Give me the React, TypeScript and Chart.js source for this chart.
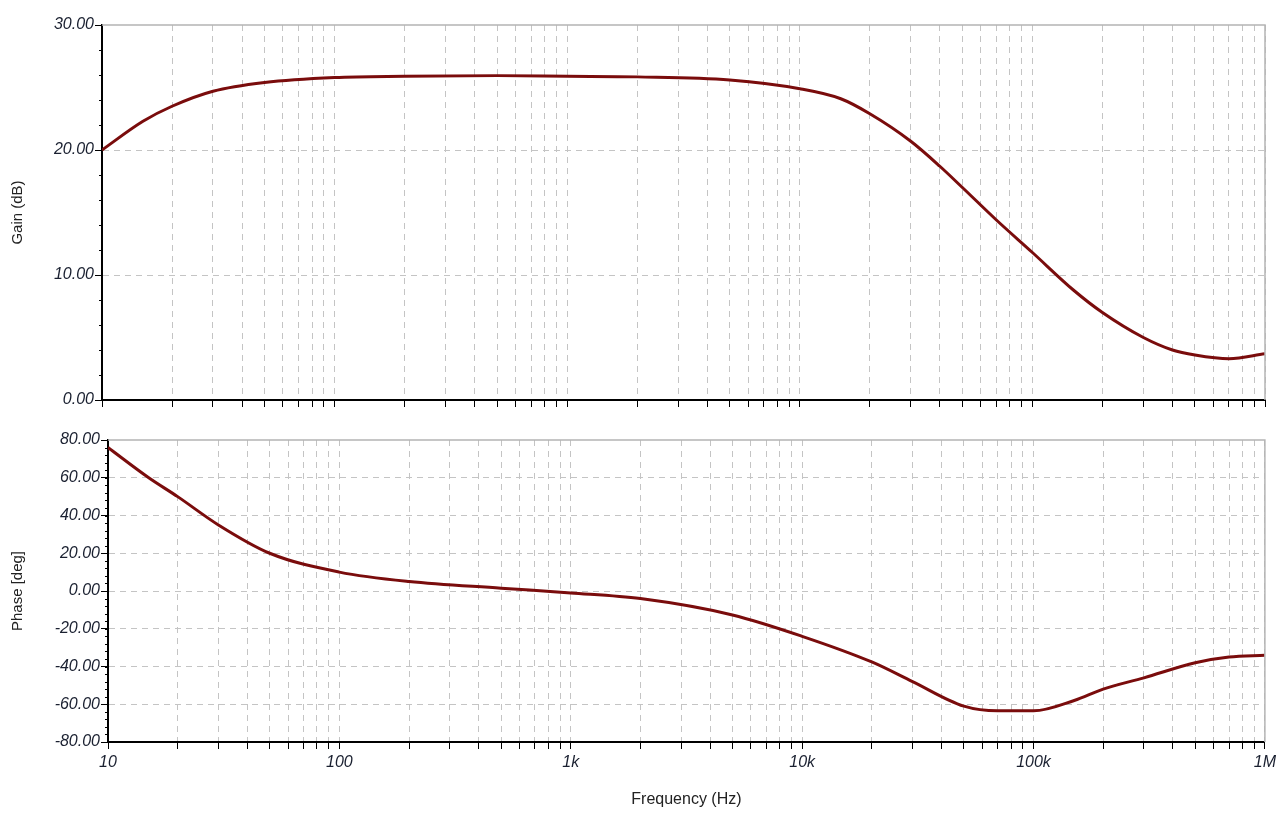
import React, { useEffect, useRef } from "react";
import { Chart, registerables } from "chart.js";
Chart.register(...registerables);

const freqs = [10, 15, 20, 30, 50, 100, 200, 500, 1000, 2000, 5000, 10000, 15000, 20000, 30000, 40000, 50000, 70000, 100000, 150000, 200000, 300000, 400000, 500000, 700000, 1000000];
const gainDb = [20.0, 22.3, 23.5, 24.7, 25.4, 25.8, 25.9, 25.95, 25.9, 25.85, 25.6, 24.9, 24.1, 22.9, 20.7, 18.7, 17.0, 14.4, 11.8, 8.8, 7.0, 5.0, 4.0, 3.6, 3.3, 3.7];
const phaseFreqs = [10, 15, 20, 30, 50, 100, 200, 500, 1000, 2000, 5000, 10000, 20000, 30000, 50000, 70000, 100000, 150000, 200000, 300000, 500000, 700000, 1000000];
const phaseDeg = [76, 60, 50, 35, 20, 10, 5, 1.5, -1, -4, -12.7, -24, -37.6, -48, -61, -63.5, -63.5, -58, -52, -46, -38, -35, -34];
const gainTicks = [0, 10, 20, 30];
const phaseTicks = [-80, -60, -40, -20, 0, 20, 40, 60, 80];
const decadeLabels: Record<number, string> = { 10: "10", 100: "100", 1000: "1k", 10000: "10k", 100000: "100k", 1000000: "1M" };

const freqTicks: number[] = [];
for (let d = 10; d < 1000000; d *= 10) for (let m = 1; m < 10; m++) freqTicks.push(d * m);
freqTicks.push(1000000);

const lineColor = "#7a0c0c";
const tickFont = { family: "Liberation Sans", size: 16, style: "italic" as const };

function framePlugin(minorStep: number) {
  return {
    id: "frame",
    afterDraw(chart: any) {
      const { ctx, chartArea: a, scales } = chart;
      ctx.save();
      ctx.strokeStyle = "#b4b4b4";
      ctx.lineWidth = 1.5;
      ctx.beginPath();
      ctx.moveTo(a.left, a.top);
      ctx.lineTo(a.right, a.top);
      ctx.lineTo(a.right, a.bottom);
      ctx.stroke();
      const y = scales.y;
      ctx.strokeStyle = "#000";
      ctx.lineWidth = 1;
      for (let v = y.min; v <= y.max + 1e-6; v += minorStep) {
        const py = Math.round(y.getPixelForValue(v)) + 0.5;
        ctx.beginPath();
        ctx.moveTo(a.left - 3, py);
        ctx.lineTo(a.left, py);
        ctx.stroke();
      }
      ctx.restore();
    },
  };
}

function xScale(showLabels: boolean, height: number) {
  return {
    type: "logarithmic" as const,
    min: 10,
    max: 1000000,
    afterBuildTicks: (s: any) => { s.ticks = freqTicks.map((v) => ({ value: v })); },
    afterFit: (s: any) => { s.height = height; },
    ticks: {
      display: showLabels,
      autoSkip: false,
      maxRotation: 0,
      padding: 4,
      color: "#1a2030",
      font: tickFont,
      callback: (v: any) => decadeLabels[v as number] ?? "",
    },
    grid: { color: "#c4c4c4", tickColor: "#000", tickLength: 7, drawTicks: true },
    border: { display: true, color: "#000", width: 2, dash: [6, 5] },
    title: showLabels
      ? { display: true, text: "Frequency (Hz)", color: "#222", font: { family: "Liberation Sans", size: 16 }, padding: { top: 6, bottom: 0 } }
      : { display: false },
  };
}

function yScale(min: number, max: number, ticks: number[], width: number, title: string) {
  return {
    type: "linear" as const,
    min,
    max,
    afterBuildTicks: (s: any) => { s.ticks = ticks.map((v) => ({ value: v })); },
    afterFit: (s: any) => { s.width = width; },
    ticks: { color: "#1a2030", font: tickFont, padding: 1, callback: (v: any) => Number(v).toFixed(2) },
    grid: { color: (c: any) => (c.tick && c.tick.value === max ? "rgba(0,0,0,0)" : "#c4c4c4"), tickColor: "#000", tickLength: 7 },
    border: { display: true, color: "#000", width: 2, dash: [6, 5] },
    title: { display: true, text: title, color: "#222", font: { family: "Liberation Sans", size: 15 }, padding: 0 },
  };
}

export default function App() {
  const topRef = useRef<HTMLCanvasElement>(null);
  const botRef = useRef<HTMLCanvasElement>(null);
  useEffect(() => {
    const top = new Chart(topRef.current!, {
      type: "line",
      data: { datasets: [{ data: freqs.map((f, i) => ({ x: f, y: gainDb[i] })), borderColor: lineColor, borderWidth: 3, pointRadius: 0, cubicInterpolationMode: "monotone" }] },
      options: {
        animation: false, responsive: false, maintainAspectRatio: false,
        layout: { padding: { top: 25, right: 15, bottom: 20, left: 9 } },
        plugins: { legend: { display: false }, tooltip: { enabled: false } },
        scales: { x: xScale(false, 0) as any, y: yScale(0, 30, gainTicks, 93, "Gain (dB)") as any },
      },
      plugins: [framePlugin(2)],
    });
    const bot = new Chart(botRef.current!, {
      type: "line",
      data: { datasets: [{ data: phaseFreqs.map((f, i) => ({ x: f, y: phaseDeg[i] })), borderColor: lineColor, borderWidth: 3, pointRadius: 0, cubicInterpolationMode: "monotone" }] },
      options: {
        animation: false, responsive: false, maintainAspectRatio: false,
        layout: { padding: { top: 20, right: 15, bottom: 20, left: 9 } },
        plugins: { legend: { display: false }, tooltip: { enabled: false } },
        scales: { x: xScale(true, 67) as any, y: yScale(-80, 80, phaseTicks, 99, "Phase [deg]") as any },
      },
      plugins: [framePlugin(4)],
    });
    return () => { top.destroy(); bot.destroy(); };
  }, []);
  return (
    <div style={{ position: "absolute", left: 0, top: 0, width: 1280, height: 829, background: "#fff" }}>
      <canvas ref={topRef} width={1280} height={420} style={{ position: "absolute", left: 0, top: 0, width: 1280, height: 420 }} />
      <canvas ref={botRef} width={1280} height={409} style={{ position: "absolute", left: 0, top: 420, width: 1280, height: 409 }} />
    </div>
  );
}
